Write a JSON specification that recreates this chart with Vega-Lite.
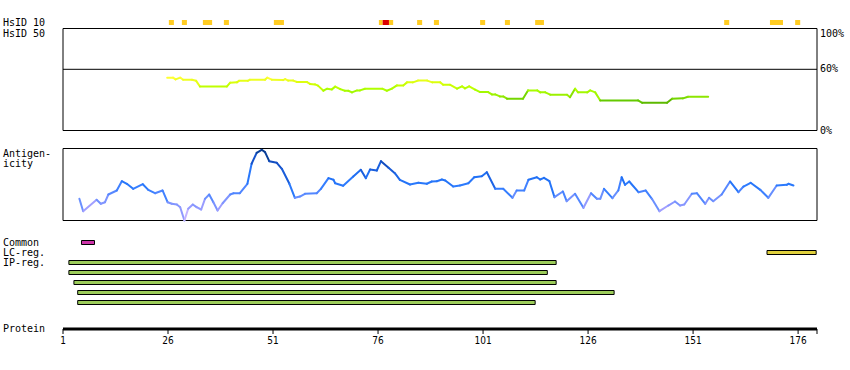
{
  "$schema": "https://vega.github.io/schema/vega-lite/v6.json",
  "width": 754,
  "height": 329,
  "autosize": {"type": "none"},
  "padding": {"left": 63, "top": 0, "right": 33, "bottom": 41},
  "background": "white",
  "config": {
    "view": {"stroke": null},
    "text": {"font": "DejaVu Sans Mono", "fontSize": 10, "color": "black"}
  },
  "datasets": {
    "protein": [{"name": "Protein", "start": 1, "end": 180.5}],
    "ticks": [
      {"pos": 1, "label": "1"}, {"pos": 26, "label": "26"}, {"pos": 51, "label": "51"},
      {"pos": 76, "label": "76"}, {"pos": 101, "label": "101"}, {"pos": 126, "label": "126"},
      {"pos": 151, "label": "151"}, {"pos": 176, "label": "176"}, {"pos": 180.5, "label": ""}
    ],
    "hsid10": [
      {"start": 26.2, "end": 27.4, "level": "match"},
      {"start": 29.3, "end": 30.5, "level": "match"},
      {"start": 34.3, "end": 36.5, "level": "match"},
      {"start": 39.3, "end": 40.5, "level": "match"},
      {"start": 51.2, "end": 53.6, "level": "match"},
      {"start": 76.2, "end": 77.1, "level": "match"},
      {"start": 77.1, "end": 78.6, "level": "multi"},
      {"start": 78.6, "end": 79.6, "level": "match"},
      {"start": 85.3, "end": 86.5, "level": "match"},
      {"start": 89.3, "end": 90.5, "level": "match"},
      {"start": 100.3, "end": 101.5, "level": "match"},
      {"start": 106.2, "end": 107.4, "level": "match"},
      {"start": 113.4, "end": 115.5, "level": "match"},
      {"start": 158.4, "end": 159.6, "level": "match"},
      {"start": 169.3, "end": 172.4, "level": "match"},
      {"start": 175.3, "end": 176.5, "level": "match"}
    ],
    "hsid50": [
      {"pos": 25.8, "identity": 51.8}, {"pos": 27.2, "identity": 51.8}, {"pos": 27.8, "identity": 50.1},
      {"pos": 28.9, "identity": 51.8}, {"pos": 29.6, "identity": 49.8}, {"pos": 31.7, "identity": 49.8},
      {"pos": 32.7, "identity": 48.7}, {"pos": 33.6, "identity": 43.1}, {"pos": 40.0, "identity": 43.1},
      {"pos": 40.8, "identity": 46.9}, {"pos": 42.4, "identity": 47.2}, {"pos": 42.9, "identity": 48.7},
      {"pos": 45.0, "identity": 48.7}, {"pos": 45.5, "identity": 49.8}, {"pos": 49.1, "identity": 49.8},
      {"pos": 49.6, "identity": 51.8}, {"pos": 50.7, "identity": 49.8}, {"pos": 53.4, "identity": 49.4},
      {"pos": 53.9, "identity": 50.4}, {"pos": 54.6, "identity": 48.9}, {"pos": 55.8, "identity": 48.9},
      {"pos": 56.7, "identity": 47.5}, {"pos": 59.1, "identity": 47.5}, {"pos": 59.8, "identity": 45.7},
      {"pos": 61.0, "identity": 45.2}, {"pos": 61.7, "identity": 44.0}, {"pos": 63.0, "identity": 39.0},
      {"pos": 63.9, "identity": 41.0}, {"pos": 65.0, "identity": 40.3}, {"pos": 65.8, "identity": 43.0},
      {"pos": 67.0, "identity": 40.6}, {"pos": 68.1, "identity": 39.0}, {"pos": 68.9, "identity": 39.0},
      {"pos": 69.8, "identity": 37.4}, {"pos": 71.0, "identity": 39.3}, {"pos": 71.7, "identity": 39.3},
      {"pos": 72.9, "identity": 41.0}, {"pos": 77.0, "identity": 41.0}, {"pos": 78.1, "identity": 39.0},
      {"pos": 79.3, "identity": 41.0}, {"pos": 80.5, "identity": 44.2}, {"pos": 82.0, "identity": 44.2},
      {"pos": 82.9, "identity": 47.2}, {"pos": 84.3, "identity": 47.2}, {"pos": 85.5, "identity": 48.9},
      {"pos": 87.7, "identity": 48.9}, {"pos": 88.9, "identity": 47.2}, {"pos": 90.8, "identity": 47.2},
      {"pos": 91.5, "identity": 44.9}, {"pos": 93.1, "identity": 44.9}, {"pos": 94.8, "identity": 41.0},
      {"pos": 96.0, "identity": 43.3}, {"pos": 96.7, "identity": 41.3}, {"pos": 97.7, "identity": 43.3},
      {"pos": 99.1, "identity": 40.0}, {"pos": 100.3, "identity": 37.7}, {"pos": 102.2, "identity": 37.7},
      {"pos": 103.1, "identity": 35.4}, {"pos": 103.9, "identity": 35.4}, {"pos": 105.0, "identity": 33.4},
      {"pos": 105.8, "identity": 33.4}, {"pos": 106.7, "identity": 31.2}, {"pos": 110.5, "identity": 31.2},
      {"pos": 111.7, "identity": 39.3}, {"pos": 113.9, "identity": 39.3}, {"pos": 114.6, "identity": 37.4},
      {"pos": 115.8, "identity": 37.4}, {"pos": 117.0, "identity": 35.1}, {"pos": 121.0, "identity": 35.1},
      {"pos": 121.7, "identity": 32.7}, {"pos": 122.9, "identity": 41.0}, {"pos": 123.6, "identity": 37.4},
      {"pos": 125.8, "identity": 37.4}, {"pos": 126.5, "identity": 39.3}, {"pos": 127.7, "identity": 37.4},
      {"pos": 128.9, "identity": 29.5}, {"pos": 137.9, "identity": 29.5}, {"pos": 138.9, "identity": 27.2},
      {"pos": 144.8, "identity": 27.2}, {"pos": 146.0, "identity": 31.2}, {"pos": 148.6, "identity": 31.5},
      {"pos": 149.8, "identity": 33.1}, {"pos": 154.6, "identity": 33.1}
    ],
    "antigen": [
      {"pos": 4.9, "score": 30.1}, {"pos": 5.8, "score": 12.9}, {"pos": 9.0, "score": 28.8},
      {"pos": 10.0, "score": 23.2}, {"pos": 11.0, "score": 25.4}, {"pos": 11.8, "score": 36.1},
      {"pos": 13.8, "score": 41.7}, {"pos": 15.0, "score": 54.6}, {"pos": 16.2, "score": 51.0},
      {"pos": 17.7, "score": 44.0}, {"pos": 20.0, "score": 50.4}, {"pos": 21.3, "score": 42.6},
      {"pos": 22.9, "score": 37.9}, {"pos": 24.7, "score": 41.7}, {"pos": 25.9, "score": 25.4},
      {"pos": 26.9, "score": 23.2}, {"pos": 28.1, "score": 22.2}, {"pos": 28.9, "score": 18.5},
      {"pos": 29.9, "score": 0.0}, {"pos": 30.8, "score": 16.3}, {"pos": 31.9, "score": 22.2},
      {"pos": 32.8, "score": 18.5}, {"pos": 33.9, "score": 15.3}, {"pos": 34.8, "score": 30.1},
      {"pos": 35.8, "score": 36.1}, {"pos": 36.8, "score": 25.4}, {"pos": 37.8, "score": 13.9},
      {"pos": 39.0, "score": 24.0}, {"pos": 40.8, "score": 36.1}, {"pos": 41.6, "score": 37.9},
      {"pos": 43.1, "score": 37.9}, {"pos": 44.9, "score": 51.0}, {"pos": 45.9, "score": 78.8},
      {"pos": 47.1, "score": 94.0}, {"pos": 48.3, "score": 98.2}, {"pos": 49.1, "score": 94.9},
      {"pos": 50.1, "score": 82.4}, {"pos": 51.9, "score": 80.1}, {"pos": 53.1, "score": 71.8},
      {"pos": 54.9, "score": 51.0}, {"pos": 56.2, "score": 31.5}, {"pos": 57.4, "score": 33.3},
      {"pos": 58.6, "score": 37.1}, {"pos": 61.4, "score": 37.9}, {"pos": 62.4, "score": 44.0},
      {"pos": 64.2, "score": 58.8}, {"pos": 65.4, "score": 56.5}, {"pos": 65.8, "score": 51.8},
      {"pos": 67.7, "score": 48.2}, {"pos": 70.1, "score": 61.1}, {"pos": 71.9, "score": 70.4},
      {"pos": 73.1, "score": 58.8}, {"pos": 74.1, "score": 70.8}, {"pos": 75.7, "score": 69.4},
      {"pos": 76.7, "score": 82.4}, {"pos": 78.5, "score": 73.2}, {"pos": 80.0, "score": 65.7},
      {"pos": 81.2, "score": 56.5}, {"pos": 83.6, "score": 50.0}, {"pos": 85.6, "score": 52.4},
      {"pos": 87.6, "score": 51.0}, {"pos": 88.8, "score": 54.2}, {"pos": 90.0, "score": 54.6},
      {"pos": 91.2, "score": 56.9}, {"pos": 92.0, "score": 55.6}, {"pos": 93.9, "score": 47.2},
      {"pos": 95.5, "score": 48.6}, {"pos": 97.5, "score": 51.8}, {"pos": 98.9, "score": 60.1},
      {"pos": 100.7, "score": 61.5}, {"pos": 101.9, "score": 67.1}, {"pos": 103.9, "score": 44.0},
      {"pos": 105.8, "score": 44.0}, {"pos": 108.0, "score": 31.5}, {"pos": 109.0, "score": 41.7},
      {"pos": 110.8, "score": 41.7}, {"pos": 111.8, "score": 56.5}, {"pos": 113.8, "score": 60.1},
      {"pos": 114.6, "score": 56.9}, {"pos": 115.5, "score": 59.3}, {"pos": 116.8, "score": 54.6},
      {"pos": 118.0, "score": 32.4}, {"pos": 120.0, "score": 40.3}, {"pos": 120.9, "score": 26.8},
      {"pos": 122.9, "score": 37.1}, {"pos": 124.9, "score": 17.6}, {"pos": 126.7, "score": 37.9},
      {"pos": 128.1, "score": 30.1}, {"pos": 128.9, "score": 30.1}, {"pos": 129.8, "score": 44.0},
      {"pos": 131.8, "score": 31.0}, {"pos": 133.2, "score": 41.7}, {"pos": 134.0, "score": 60.1},
      {"pos": 134.8, "score": 49.6}, {"pos": 135.8, "score": 54.2}, {"pos": 138.0, "score": 39.3},
      {"pos": 139.7, "score": 41.7}, {"pos": 141.2, "score": 30.1}, {"pos": 143.0, "score": 12.9},
      {"pos": 145.1, "score": 20.8}, {"pos": 146.7, "score": 26.4}, {"pos": 147.9, "score": 20.8},
      {"pos": 148.9, "score": 22.2}, {"pos": 150.7, "score": 37.1}, {"pos": 151.9, "score": 37.9},
      {"pos": 153.9, "score": 23.2}, {"pos": 154.8, "score": 31.5}, {"pos": 155.8, "score": 26.8},
      {"pos": 157.8, "score": 36.1}, {"pos": 159.8, "score": 54.2}, {"pos": 161.8, "score": 39.3},
      {"pos": 163.0, "score": 47.2}, {"pos": 164.7, "score": 52.4}, {"pos": 167.0, "score": 42.6},
      {"pos": 168.9, "score": 31.5}, {"pos": 170.9, "score": 48.6}, {"pos": 173.3, "score": 49.6},
      {"pos": 173.7, "score": 51.0}, {"pos": 174.9, "score": 48.6}
    ],
    "features": [
      {"track": "Common", "type": "Common", "start": 5.4, "end": 8.5},
      {"track": "LC-reg.", "type": "LC-reg.", "start": 168.6, "end": 180.3},
      {"track": "IP-reg. 1", "type": "IP-reg.", "start": 2.4, "end": 118.4},
      {"track": "IP-reg. 2", "type": "IP-reg.", "start": 2.4, "end": 116.3},
      {"track": "IP-reg. 3", "type": "IP-reg.", "start": 3.6, "end": 118.4},
      {"track": "IP-reg. 4", "type": "IP-reg.", "start": 4.5, "end": 132.2},
      {"track": "IP-reg. 5", "type": "IP-reg.", "start": 4.5, "end": 113.4}
    ],
    "featureLabels": [
      {"track": "Common", "label": "Common"},
      {"track": "LC-reg.", "label": "LC-reg."},
      {"track": "IP-reg. 1", "label": "IP-reg."}
    ]
  },
  "resolve": {"scale": {"y": "independent", "color": "independent"}},
  "layer": [
    {
      "layer": [
        {
          "data": {"name": "hsid10"},
          "mark": {"type": "rect"},
          "encoding": {
            "x": {"field": "start", "type": "quantitative", "scale": {"domain": [1, 180.5], "nice": false, "zero": false}, "axis": null},
            "x2": {"field": "end"},
            "y": {"datum": "HsID 10", "type": "nominal", "scale": {"domain": ["HsID 10"], "range": [20, 25], "paddingInner": 0, "paddingOuter": 0}, "axis": null},
            "color": {"field": "level", "type": "nominal", "scale": {"domain": ["match", "multi"], "range": ["#ffcc22", "#dd0000"]}, "legend": null}
          }
        },
        {
          "data": {"values": [{"track": "HsID 10"}]},
          "mark": {"type": "text", "align": "left", "baseline": "middle"},
          "encoding": {
            "x": {"datum": -13.3, "type": "quantitative", "scale": {"domain": [1, 180.5], "nice": false, "zero": false}, "axis": null},
            "y": {"field": "track", "type": "nominal", "scale": {"domain": ["HsID 10"], "range": [20, 25], "paddingInner": 0, "paddingOuter": 0}, "axis": null},
            "text": {"field": "track"}
          }
        }
      ]
    },
    {
      "layer": [
        {
          "data": {"name": "protein"},
          "mark": {"type": "rect", "fillOpacity": 0, "stroke": "black", "strokeWidth": 1},
          "encoding": {
            "x": {"field": "start", "type": "quantitative", "scale": {"domain": [1, 180.5], "nice": false, "zero": false}, "axis": null},
            "x2": {"field": "end"},
            "y": {"datum": 0, "type": "quantitative", "scale": {"domain": [0, 100], "range": [130.5, 28.5], "nice": false, "zero": false}, "axis": null},
            "y2": {"datum": 100}
          }
        },
        {
          "data": {"name": "protein"},
          "mark": {"type": "rule", "color": "black", "strokeWidth": 1},
          "encoding": {
            "x": {"field": "start", "type": "quantitative", "scale": {"domain": [1, 180.5], "nice": false, "zero": false}, "axis": null},
            "x2": {"field": "end"},
            "y": {"datum": 60, "type": "quantitative", "scale": {"domain": [0, 100], "range": [130.5, 28.5], "nice": false, "zero": false}, "axis": null}
          }
        },
        {
          "data": {"name": "hsid50"},
          "transform": [
            {"window": [{"op": "lead", "field": "pos", "as": "pos2"}, {"op": "lead", "field": "identity", "as": "identity2"}], "sort": [{"field": "pos", "order": "ascending"}]},
            {"filter": "isValid(datum.pos2)"}
          ],
          "mark": {"type": "rule", "strokeWidth": 2, "strokeCap": "round"},
          "encoding": {
            "x": {"field": "pos", "type": "quantitative", "scale": {"domain": [1, 180.5], "nice": false, "zero": false}, "axis": null},
            "x2": {"field": "pos2"},
            "y": {"field": "identity", "type": "quantitative", "scale": {"domain": [0, 100], "range": [130.5, 28.5], "nice": false, "zero": false}, "axis": null},
            "y2": {"field": "identity2"},
            "color": {"field": "identity", "type": "quantitative", "scale": {"domain": [27, 30, 34, 40, 44, 48, 52], "range": ["#5cb800", "#66cc00", "#99ee00", "#aaff00", "#c6ff00", "#e0ff10", "#ffff33"]}, "legend": null}
          }
        },
        {
          "data": {"values": [{"label": "HsID 50"}]},
          "mark": {"type": "text", "align": "left", "baseline": "top"},
          "encoding": {
            "x": {"datum": -13.3, "type": "quantitative", "scale": {"domain": [1, 180.5], "nice": false, "zero": false}, "axis": null},
            "y": {"datum": 100, "type": "quantitative", "scale": {"domain": [0, 100], "range": [130.5, 28.5], "nice": false, "zero": false}, "axis": null},
            "text": {"field": "label"}
          }
        },
        {
          "data": {"values": [{"pct": 100, "label": "100%"}]},
          "mark": {"type": "text", "align": "left", "baseline": "top", "dx": 3},
          "encoding": {
            "x": {"datum": 180.5, "type": "quantitative", "scale": {"domain": [1, 180.5], "nice": false, "zero": false}, "axis": null},
            "y": {"field": "pct", "type": "quantitative", "scale": {"domain": [0, 100], "range": [130.5, 28.5], "nice": false, "zero": false}, "axis": null},
            "text": {"field": "label"}
          }
        },
        {
          "data": {"values": [{"pct": 60, "label": "60%"}, {"pct": 0, "label": "0%"}]},
          "mark": {"type": "text", "align": "left", "baseline": "middle", "dx": 3},
          "encoding": {
            "x": {"datum": 180.5, "type": "quantitative", "scale": {"domain": [1, 180.5], "nice": false, "zero": false}, "axis": null},
            "y": {"field": "pct", "type": "quantitative", "scale": {"domain": [0, 100], "range": [130.5, 28.5], "nice": false, "zero": false}, "axis": null},
            "text": {"field": "label"}
          }
        }
      ]
    },
    {
      "layer": [
        {
          "data": {"name": "protein"},
          "mark": {"type": "rect", "fillOpacity": 0, "stroke": "black", "strokeWidth": 1},
          "encoding": {
            "x": {"field": "start", "type": "quantitative", "scale": {"domain": [1, 180.5], "nice": false, "zero": false}, "axis": null},
            "x2": {"field": "end"},
            "y": {"datum": 0, "type": "quantitative", "scale": {"domain": [0, 100], "range": [220.5, 148.5], "nice": false, "zero": false}, "axis": null},
            "y2": {"datum": 100}
          }
        },
        {
          "data": {"name": "antigen"},
          "transform": [
            {"window": [{"op": "lead", "field": "pos", "as": "pos2"}, {"op": "lead", "field": "score", "as": "score2"}], "sort": [{"field": "pos", "order": "ascending"}]},
            {"filter": "isValid(datum.pos2)"}
          ],
          "mark": {"type": "rule", "strokeWidth": 2, "strokeCap": "round"},
          "encoding": {
            "x": {"field": "pos", "type": "quantitative", "scale": {"domain": [1, 180.5], "nice": false, "zero": false}, "axis": null},
            "x2": {"field": "pos2"},
            "y": {"field": "score", "type": "quantitative", "scale": {"domain": [0, 100], "range": [220.5, 148.5], "nice": false, "zero": false}, "axis": null},
            "y2": {"field": "score2"},
            "color": {"field": "score", "type": "quantitative", "scale": {"domain": [0, 15, 30, 45, 60, 80, 100], "range": ["#c4b4ff", "#9a9cff", "#6a90ff", "#2f7dff", "#2070f5", "#1450c8", "#0a3a8a"]}, "legend": null}
          }
        },
        {
          "data": {"values": [{"label": "Antigen-\nicity"}]},
          "mark": {"type": "text", "align": "left", "baseline": "top", "lineBreak": "\n", "lineHeight": 10.7},
          "encoding": {
            "x": {"datum": -13.3, "type": "quantitative", "scale": {"domain": [1, 180.5], "nice": false, "zero": false}, "axis": null},
            "y": {"datum": 100, "type": "quantitative", "scale": {"domain": [0, 100], "range": [220.5, 148.5], "nice": false, "zero": false}, "axis": null},
            "text": {"field": "label"}
          }
        }
      ]
    },
    {
      "layer": [
        {
          "data": {"name": "features"},
          "mark": {"type": "rect", "stroke": "black", "strokeWidth": 1},
          "encoding": {
            "x": {"field": "start", "type": "quantitative", "scale": {"domain": [1, 180.5], "nice": false, "zero": false}, "axis": null},
            "x2": {"field": "end"},
            "y": {"field": "track", "type": "nominal", "scale": {"domain": ["Common", "LC-reg.", "IP-reg. 1", "IP-reg. 2", "IP-reg. 3", "IP-reg. 4", "IP-reg. 5"], "range": [237.5, 307.5], "paddingInner": 0.6, "paddingOuter": 0.3}, "axis": null},
            "color": {"field": "type", "type": "nominal", "scale": {"domain": ["Common", "LC-reg.", "IP-reg."], "range": ["#cc33a8", "#e0d03c", "#9ccc5a"]}, "legend": null}
          }
        },
        {
          "data": {"name": "featureLabels"},
          "mark": {"type": "text", "align": "left", "baseline": "middle"},
          "encoding": {
            "x": {"datum": -13.3, "type": "quantitative", "scale": {"domain": [1, 180.5], "nice": false, "zero": false}, "axis": null},
            "y": {"field": "track", "type": "nominal", "scale": {"domain": ["Common", "LC-reg.", "IP-reg. 1", "IP-reg. 2", "IP-reg. 3", "IP-reg. 4", "IP-reg. 5"], "range": [237.5, 307.5], "paddingInner": 0.6, "paddingOuter": 0.3}, "axis": null},
            "text": {"field": "label"}
          }
        }
      ]
    },
    {
      "layer": [
        {
          "data": {"name": "protein"},
          "mark": {"type": "rule", "color": "black", "strokeWidth": 3},
          "encoding": {
            "x": {"field": "start", "type": "quantitative", "scale": {"domain": [1, 180.5], "nice": false, "zero": false}, "axis": null},
            "x2": {"field": "end"},
            "y": {"datum": 0, "type": "quantitative", "scale": {"domain": [0, 1], "range": [329, 334], "nice": false, "zero": false}, "axis": null}
          }
        },
        {
          "data": {"name": "ticks"},
          "mark": {"type": "rule", "color": "black", "strokeWidth": 1},
          "encoding": {
            "x": {"field": "pos", "type": "quantitative", "scale": {"domain": [1, 180.5], "nice": false, "zero": false}, "axis": null},
            "y": {"datum": 0, "type": "quantitative", "scale": {"domain": [0, 1], "range": [329, 334], "nice": false, "zero": false}, "axis": null},
            "y2": {"datum": 1}
          }
        },
        {
          "data": {"name": "ticks"},
          "mark": {"type": "text", "align": "center", "baseline": "top", "dy": 2, "font": "Liberation Sans Narrow, DejaVu Sans Condensed, Liberation Sans, sans-serif", "fontSize": 10},
          "encoding": {
            "x": {"field": "pos", "type": "quantitative", "scale": {"domain": [1, 180.5], "nice": false, "zero": false}, "axis": null},
            "y": {"datum": 1, "type": "quantitative", "scale": {"domain": [0, 1], "range": [329, 334], "nice": false, "zero": false}, "axis": null},
            "text": {"field": "label"}
          }
        },
        {
          "data": {"name": "protein"},
          "mark": {"type": "text", "align": "left", "baseline": "middle"},
          "encoding": {
            "x": {"datum": -13.3, "type": "quantitative", "scale": {"domain": [1, 180.5], "nice": false, "zero": false}, "axis": null},
            "y": {"datum": 0, "type": "quantitative", "scale": {"domain": [0, 1], "range": [329, 334], "nice": false, "zero": false}, "axis": null},
            "text": {"field": "name"}
          }
        }
      ]
    }
  ]
}
